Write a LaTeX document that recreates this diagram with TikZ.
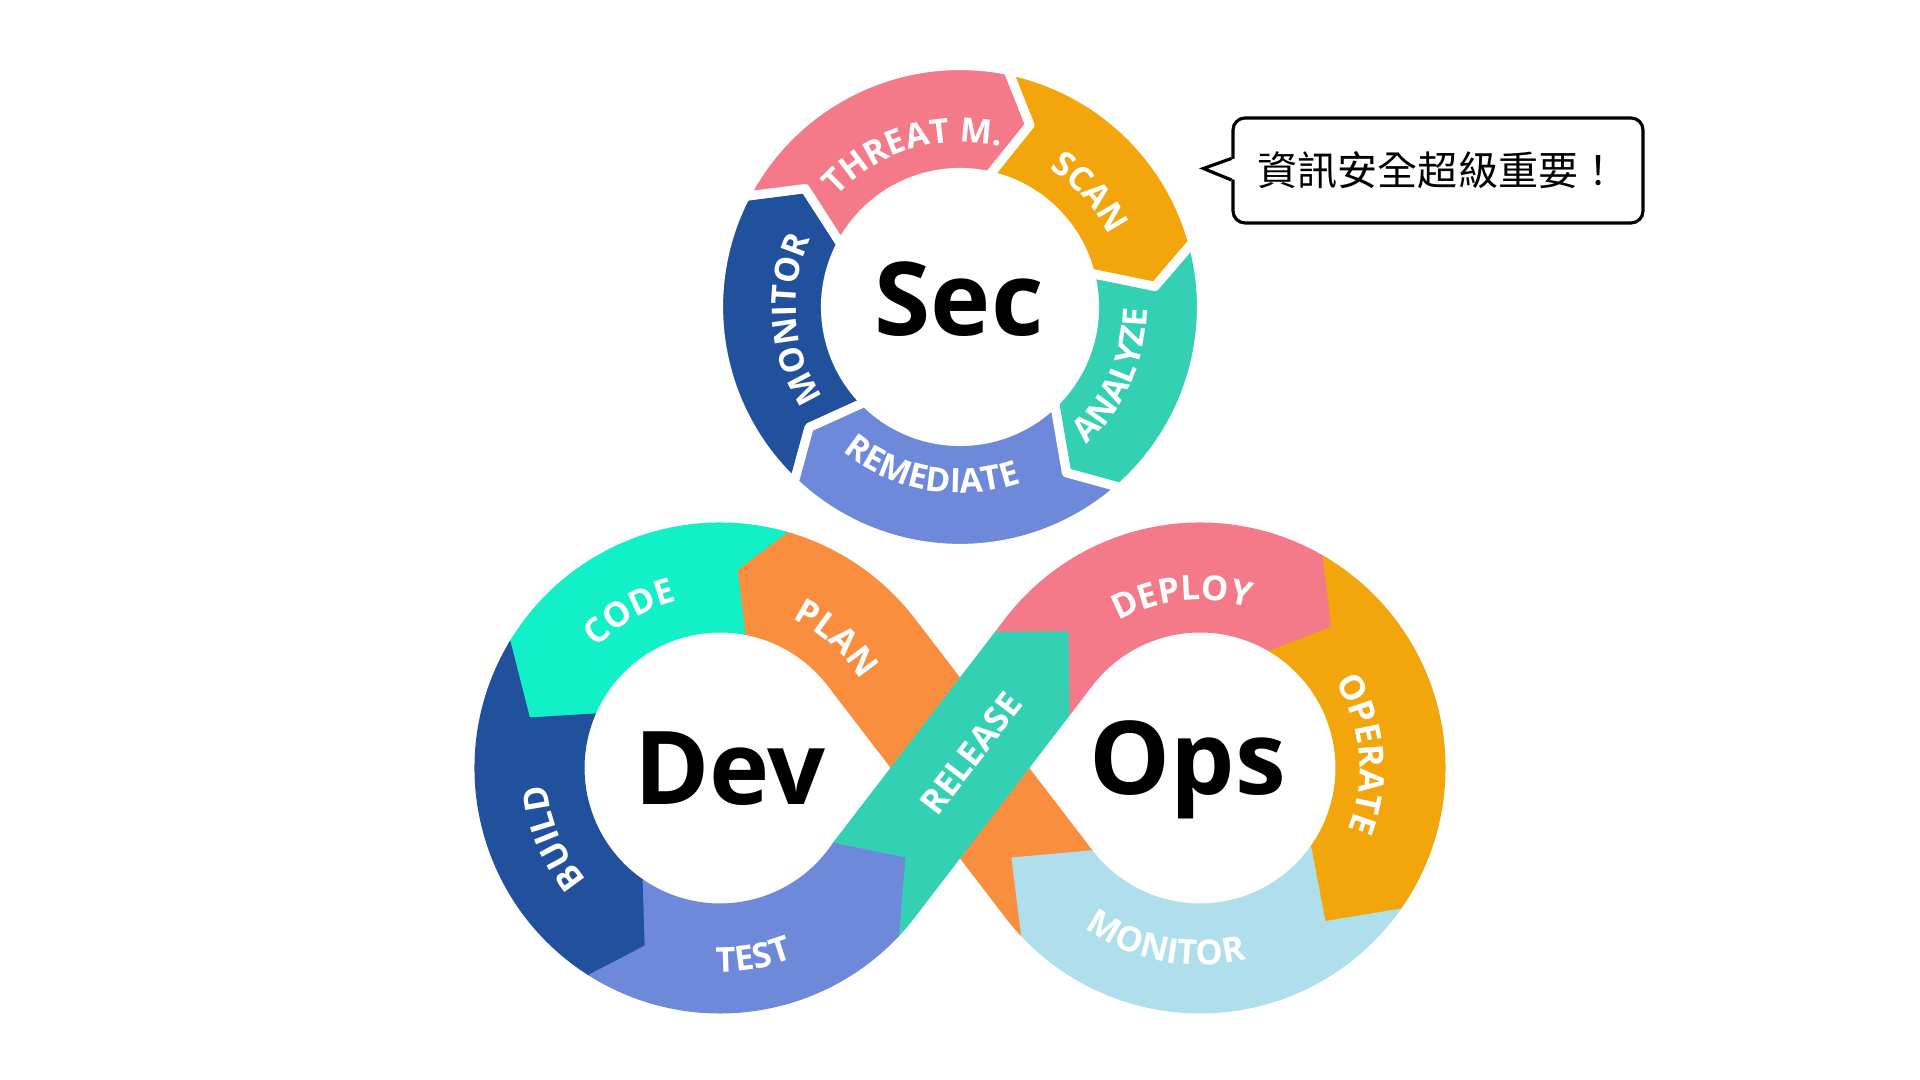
\documentclass[tikz,border=0pt]{standalone}
\usepackage{fontspec}
\setmainfont{Open Sans}
\newfontfamily\cjkfont{Noto Sans CJK TC}
\usetikzlibrary{calc}
\usetikzlibrary{decorations.text}

\definecolor{pinkseg}{RGB}{244,121,137}
\definecolor{goldseg}{RGB}{242,166,12}
\definecolor{tealseg}{RGB}{52,208,179}
\definecolor{violetseg}{RGB}{110,136,218}
\definecolor{navyseg}{RGB}{33,81,156}
\definecolor{aquaseg}{RGB}{18,240,200}
\definecolor{orangeseg}{RGB}{249,143,62}
\definecolor{skyseg}{RGB}{175,223,236}

\newcommand{\secringfont}{\bfseries\fontsize{9.6}{11}\selectfont}
\newcommand{\loopringfont}{\bfseries\fontsize{9.8}{12}\selectfont}

\begin{document}
\begin{tikzpicture}[
		secseg/.style={draw=white, line width=2.6pt, line join=round},
		band/.style={line width=0.3pt, line join=round},
		ringtext/.style={decorate, decoration={text along path, text align=center, text color=white}},
		bigtext/.style={font=\bfseries\fontsize{29}{34}\selectfont, anchor=base}
	]
		\useasboundingbox (0,0) rectangle (19.2,10.8);
		\coordinate (S) at (9.60,7.73);
		\coordinate (C1) at (7.20,3.12);
		\coordinate (C2) at (12.00,3.12);
		\coordinate (M) at (9.60,3.12);

		% Sec ring
		\filldraw[secseg, fill=navyseg] ($(S)+(226.6:2.415)$) arc[start angle=226.6, end angle=152.7, radius=2.415] -- ($(S)+(142.6:1.95)$) -- ($(S)+(152.2:1.345)$) arc[start angle=152.2, end angle=225, radius=1.345] -- ($(S)+(218.6:1.93)$) -- cycle;
		\filldraw[secseg, fill=pinkseg] ($(S)+(152.7:2.415)$) arc[start angle=152.7, end angle=78.5, radius=2.415] -- ($(S)+(69:1.95)$) -- ($(S)+(77.5:1.345)$) arc[start angle=77.5, end angle=152.2, radius=1.345] -- ($(S)+(142.6:1.95)$) -- cycle;
		\filldraw[secseg, fill=goldseg] ($(S)+(78.5:2.415)$) arc[start angle=78.5, end angle=15.5, radius=2.415] -- ($(S)+(6:1.96)$) -- ($(S)+(14.5:1.345)$) arc[start angle=14.5, end angle=77.5, radius=1.345] -- ($(S)+(69:1.95)$) -- cycle;
		\filldraw[secseg, fill=tealseg] ($(S)+(15.5:2.415)$) arc[start angle=15.5, end angle=-48.4, radius=2.415] -- ($(S)+(-57.3:1.97)$) -- ($(S)+(-45.4:1.345)$) arc[start angle=-45.4, end angle=14.5, radius=1.345] -- ($(S)+(6:1.96)$) -- cycle;
		\filldraw[secseg, fill=violetseg] ($(S)+(-48.4:2.415)$) arc[start angle=-48.4, end angle=-133.4, radius=2.415] -- ($(S)+(-141.4:1.93)$) -- ($(S)+(-135:1.345)$) arc[start angle=-135, end angle=-45.4, radius=1.345] -- ($(S)+(-57.3:1.97)$) -- cycle;

		\path[ringtext, decoration={text={|\secringfont|THREAT M.}}] ($(S)+(152:1.65)$) arc[start angle=152, end angle=62, radius=1.65];
		\path[ringtext, decoration={text={|\secringfont|SCAN}}] ($(S)+(86.4:1.65)$) arc[start angle=86.4, end angle=-3.6, radius=1.65];
		\path[ringtext, decoration={text={|\secringfont|ANALYZE}}] ($(S)+(-69:1.87)$) arc[start angle=-69, end angle=21, radius=1.87];
		\path[ringtext, decoration={text={|\secringfont|REMEDIATE}}] ($(S)+(215:1.86)$) arc[start angle=215, end angle=305, radius=1.86];
		\path[ringtext, decoration={text={|\secringfont|MONITOR}}] ($(S)+(229.5:1.64)$) arc[start angle=229.5, end angle=139.5, radius=1.64];
		\node[bigtext] (sec) at (9.59,7.44) {Sec};

		% DevOps loop
		\coordinate (r1o) at ($(C1)+(-37.5:2.45)$);
		\coordinate (r1i) at ($(C1)+(-37.5:1.36)$);
		\coordinate (r2o) at ($(C2)+(142.5:2.45)$);
		\coordinate (r2i) at ($(C2)+(142.5:1.36)$);
		\coordinate (p1o) at ($(C1)+(37.5:2.45)$);
		\coordinate (p1i) at ($(C1)+(37.5:1.36)$);
		\coordinate (p2o) at ($(C2)+(-142.5:2.45)$);
		\coordinate (p2i) at ($(C2)+(-142.5:1.36)$);
		\coordinate (mtip) at (10.12,2.22);
		\coordinate (ttip) at (9.06,2.23);
		\coordinate (ra) at ($(r1i)!0.943!(r2o)$);
		\coordinate (rb) at ($(r1o)!0.87!(r2i)$);
		\coordinate (rtip) at (10.68,4.48);

		\filldraw[band, orangeseg] (mtip) -- ($(C2)+(-136.7:2.45)$) arc[start angle=-136.7, end angle=-142.5, radius=2.45] -- (p1i) arc[start angle=37.5, end angle=79.4, radius=1.36] -- ($(C1)+(85.1:1.99)$) -- ($(C1)+(74.2:2.45)$) arc[start angle=74.2, end angle=37.5, radius=2.45] -- (p2i) -- cycle;
		\filldraw[band, aquaseg] ($(C1)+(74.2:2.45)$) arc[start angle=74.2, end angle=149, radius=2.45] -- ($(C1)+(165.3:1.97)$) -- ($(C1)+(156.6:1.36)$) arc[start angle=156.6, end angle=79.4, radius=1.36] -- ($(C1)+(85.1:1.99)$) -- cycle;
		\filldraw[band, navyseg] ($(C1)+(149:2.45)$) arc[start angle=149, end angle=237.7, radius=2.45] -- ($(C1)+(247.2:1.93)$) -- ($(C1)+(235.6:1.36)$) arc[start angle=235.6, end angle=156.6, radius=1.36] -- ($(C1)+(165.3:1.97)$) -- cycle;
		\filldraw[band, violetseg] ($(C1)+(237.7:2.45)$) arc[start angle=237.7, end angle=317.2, radius=2.45] -- (ttip) -- ($(C1)+(326.9:1.36)$) arc[start angle=326.9, end angle=235.6, radius=1.36] -- ($(C1)+(247.2:1.93)$) -- cycle;
		\filldraw[band, pinkseg] (rtip) -- (ra) -- (r2o) arc[start angle=142.5, end angle=59.8, radius=2.45] -- ($(C2)+(46.9:1.93)$) -- ($(C2)+(59.2:1.36)$) arc[start angle=59.2, end angle=142.5, radius=1.36] -- (rb) -- cycle;
		\filldraw[band, goldseg] ($(C2)+(59.8:2.45)$) arc[start angle=59.8, end angle=-35.2, radius=2.45] -- ($(C2)+(-50.9:1.98)$) -- ($(C2)+(-35.5:1.36)$) arc[start angle=-35.5, end angle=59.2, radius=1.36] -- ($(C2)+(46.9:1.93)$) -- cycle;
		\filldraw[band, skyseg] ($(C2)+(-35.2:2.45)$) arc[start angle=-35.2, end angle=-136.7, radius=2.45] -- (mtip) -- (p2i) arc[start angle=-142.5, end angle=-35.5, radius=1.36] -- ($(C2)+(-50.9:1.98)$) -- cycle;
		\filldraw[band, tealseg] ($(C1)+(317.2:2.45)$) arc[start angle=317.2, end angle=322.5, radius=2.45] -- (rb) -- (rtip) -- (ra) -- ($(C1)+(326.9:1.36)$) -- (ttip) -- cycle;

		\path[ringtext, decoration={text={|\loopringfont|CODE}}] ($(C1)+(165:1.72)$) arc[start angle=165, end angle=75, radius=1.72];
		\path[ringtext, decoration={text={|\loopringfont|PLAN}}] ($(C1)+(93:1.66)$) arc[start angle=93, end angle=3, radius=1.66];
		\path[ringtext, decoration={text={|\loopringfont|BUILD}}] ($(C1)+(247.8:1.74)$) arc[start angle=247.8, end angle=157.8, radius=1.74];
		\path[ringtext, decoration={text={|\loopringfont|TEST}}] ($(C1)+(235:2.04)$) arc[start angle=235, end angle=325, radius=2.04];
		\path[ringtext, decoration={text={|\loopringfont|DEPLOY}}] ($(C2)+(141:1.68)$) arc[start angle=141, end angle=51, radius=1.68];
		\path[ringtext, decoration={text={|\loopringfont|OPERATE}}] ($(C2)+(50:1.60)$) arc[start angle=50, end angle=-40, radius=1.60];
		\path[ringtext, decoration={text={|\loopringfont|MONITOR}}] ($(C2)+(214:1.97)$) arc[start angle=214, end angle=304, radius=1.97];
		\node[rotate=52.5, text=white, font=\loopringfont] (release) at ($(M)+(52.5:0.18)$) {RELEASE};
		\node[bigtext] (dev) at (7.30,2.75) {Dev};
		\node[bigtext] (ops) at (11.875,2.85) {Ops};

		% speech bubble
		\node[draw, line width=0.9pt, rounded corners=0.12cm, minimum width=4.1cm, minimum height=1.05cm, font=\cjkfont\fontsize{11.4}{13}\selectfont] (note) at (14.38,9.095) {資訊安全超級重要！};
		\coordinate (ptup) at ($(note.west)+(0,0.12)$);
		\coordinate (ptlo) at ($(note.west)+(0,-0.095)$);
		\coordinate (pttip) at ($(note.west)+(-0.28,0.02)$);
		\fill[white] ($(ptup)+(0.035,0)$) -- (pttip) -- ($(ptlo)+(0.035,0)$) -- cycle;
		\draw[line width=0.9pt] (ptup) -- (pttip) -- (ptlo);
	\end{tikzpicture}
\end{document}
